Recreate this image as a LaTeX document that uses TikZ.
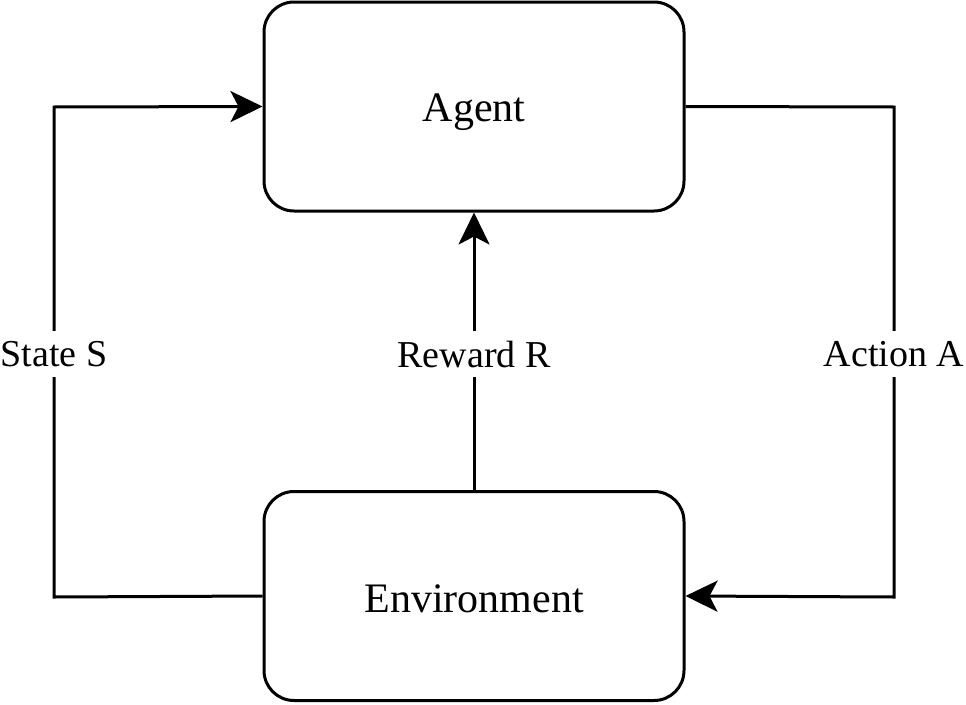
\documentclass[tikz,border=0pt]{standalone}
\usepackage{fontspec}
\setmainfont{Liberation Serif}
\usetikzlibrary{arrows.meta}
\begin{document}
\begin{tikzpicture}[x=1pt,y=-1pt,
  boxst/.style={draw=black,line width=3pt,rounded corners=30pt,minimum width=420pt,minimum height=209pt,inner sep=0pt,font=\fontsize{42}{50}\selectfont},
  conn/.style={draw=black,line width=3pt,-{Stealth[length=32pt,width=31pt,inset=8pt]}},
  lbl/.style={fill=white,inner xsep=2pt,inner ysep=10pt,font=\fontsize{38}{45}\selectfont}]
\useasboundingbox (0,0) rectangle (966,704);
\node[boxst] (agent) at (474,106.5) {\raisebox{-6pt}[\height][\depth]{Agent}};
\node[boxst] (env) at (474,596) {\raisebox{-3pt}[\height][\depth]{Environment}};
\coordinate (lb) at (54,597);
\coordinate (lt) at (54,107);
\coordinate (rt) at (894,107);
\coordinate (rb) at (894,597);
\draw[conn] (env.west) -- (lb) -- (lt) -- (agent.west);
\draw[conn] (env.north) -- (agent.south);
\draw[conn] (agent.east) -- (rt) -- (rb) -- (env.east);
\node[lbl] (ls) at (54,354) {State S};
\node[lbl] (lr) at (474,354) {Reward R};
\node[lbl] (la) at (894,354) {Action A};
\end{tikzpicture}
\end{document}
